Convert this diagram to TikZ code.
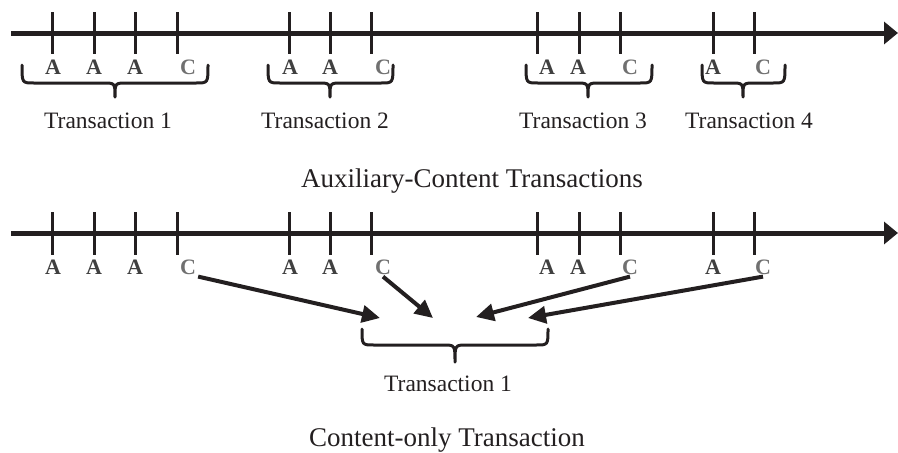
\documentclass[tikz,border=0pt]{standalone}
\usepackage{fontspec}
\setmainfont{Liberation Serif}
\usetikzlibrary{arrows.meta}
\definecolor{ink}{HTML}{231F20}
\definecolor{agray}{HTML}{404040}
\definecolor{cgray}{HTML}{707070}
\newcommand\tbrace[6]{%
  \draw[bracestyle] (#1,#4) .. controls (#1,#5) .. (#1+12,#5) -- (#2-12,#5)
    .. controls (#2,#5) .. (#2,#6) .. controls (#2,#5) .. (#2+12,#5)
    -- (#3-12,#5) .. controls (#3,#5) .. (#3,#4);}
\begin{document}
\begin{tikzpicture}[x=1pt,y=-1pt,
  axis/.style={draw=ink,line width=5pt,-{Triangle[length=14pt,width=22pt]}},
  tick/.style={draw=ink,line width=3pt},
  bracestyle/.style={draw=ink,line width=3pt,line cap=round,line join=round},
  alab/.style={inner sep=0pt,text=agray,font=\fontsize{22}{22}\selectfont\bfseries},
  clab/.style={inner sep=0pt,text=cgray,font=\fontsize{22}{22}\selectfont\bfseries},
  tlab/.style={inner sep=0pt,anchor=base,text=ink,font=\fontsize{23.5}{26}\selectfont},
  caplab/.style={inner sep=0pt,anchor=base,text=ink,font=\fontsize{27}{30}\selectfont},
  conn/.style={draw=ink,line width=4pt,-{Triangle[length=18pt,width=17pt]}}]
\useasboundingbox (0,0) rectangle (898,453);
% axes
\coordinate (L1s) at (11,33); \coordinate (L1e) at (898,33);
\coordinate (L2s) at (11,233); \coordinate (L2e) at (898,233);
\draw[axis] (L1s) -- (L1e);
\draw[axis] (L2s) -- (L2e);
% ticks
\foreach \x in {52,94,135,177,289,330,371,537,579,620,713,754}{
  \draw[tick] (\x,12) -- (\x,54);
  \draw[tick] (\x,212) -- (\x,255);
}
% top labels
\node[alab] (ta1) at (53,67) {A};
\node[alab] (ta2) at (94,67) {A};
\node[alab] (ta3) at (135,67) {A};
\node[clab] (tc1) at (188,67) {C};
\node[alab] (ta4) at (290,67) {A};
\node[alab] (ta5) at (330,67) {A};
\node[clab] (tc2) at (383,67) {C};
\node[alab] (ta6) at (547,67) {A};
\node[alab] (ta7) at (578,67) {A};
\node[clab] (tc3) at (630,67) {C};
\node[alab] (ta8) at (713,67) {A};
\node[clab] (tc4) at (763,67) {C};
% braces top
\tbrace{22}{115}{208}{65}{83}{97}
\tbrace{268}{330}{393}{65}{83}{97}
\tbrace{526}{588}{652}{65}{83}{97}
\tbrace{702}{743}{785}{65}{83}{97}
\node[tlab] (tr1) at (108,128) {Transaction 1};
\node[tlab] (tr2) at (325,128) {Transaction 2};
\node[tlab] (tr3) at (583,128) {Transaction 3};
\node[tlab] (tr4) at (749,128) {Transaction 4};
\node[caplab] (cap1) at (472,187) {Auxiliary-Content Transactions};
% bottom labels
\node[alab] (ba1) at (53,267) {A};
\node[alab] (ba2) at (94,267) {A};
\node[alab] (ba3) at (135,267) {A};
\node[clab] (bc1) at (188,267) {C};
\node[alab] (ba4) at (290,267) {A};
\node[alab] (ba5) at (330,267) {A};
\node[clab] (bc2) at (383,267) {C};
\node[alab] (ba6) at (547,267) {A};
\node[alab] (ba7) at (578,267) {A};
\node[clab] (bc3) at (630,267) {C};
\node[alab] (ba8) at (713,267) {A};
\node[clab] (bc4) at (763,267) {C};
% arrow targets
\coordinate (t1) at (380,318);
\coordinate (t2) at (433,318);
\coordinate (t3) at (476,317);
\coordinate (t4) at (528,318);
\draw[conn] (bc1.south east) ++(2,2) -- (t1);
\draw[conn] (bc2.south) ++(0,2) -- (t2);
\draw[conn] (bc3.south) ++(0,2) -- (t3);
\draw[conn] (bc4.south) ++(0,2) -- (t4);
% bottom brace
\tbrace{362}{455}{548}{329}{345}{362}
\node[tlab] (trb) at (448,391) {Transaction 1};
\node[caplab] (cap2) at (447,446) {Content-only Transaction};
\end{tikzpicture}
\end{document}
